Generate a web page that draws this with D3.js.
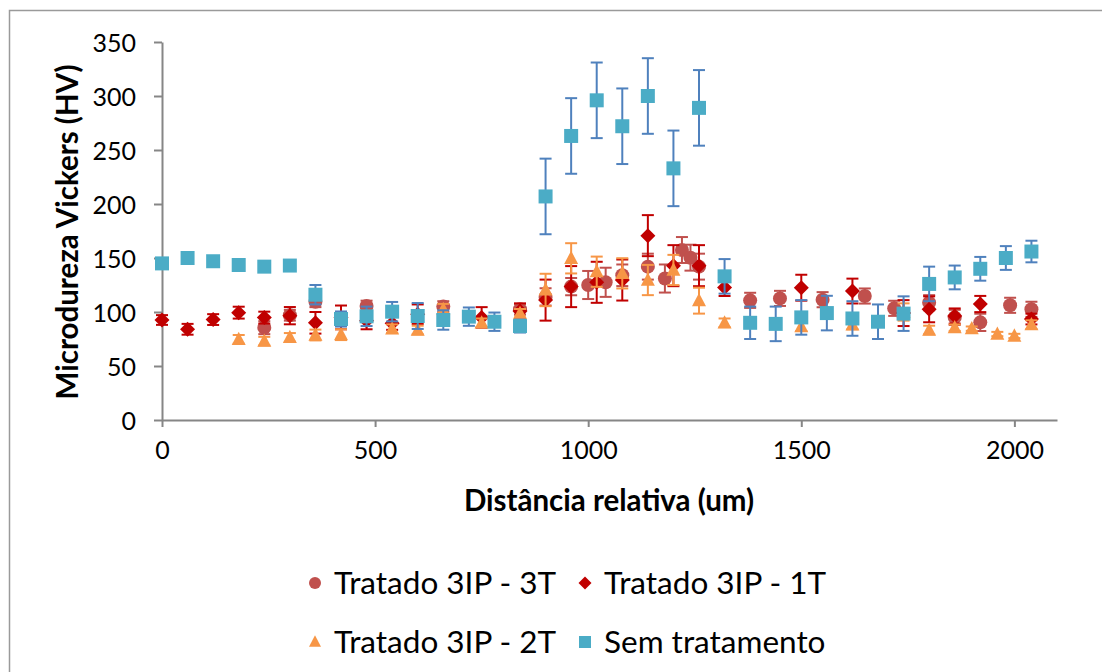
<!DOCTYPE html>
<html>
<head>
<meta charset="utf-8">
<script src="https://cdn.jsdelivr.net/npm/d3@7"></script>
<style>
  body { margin: 0; background: #fff; }
  svg { display: block; font-family: Lato, "Liberation Sans", sans-serif; }
</style>
</head>
<body>
<div id="chart"></div>
<script>
// Data
const seriesNames = ['Tratado 3IP - 3T', 'Tratado 3IP - 1T', 'Tratado 3IP - 2T', 'Sem tratamento'];

// Tratado 3IP - 3T (circles)
const t3x = [240, 300, 360, 480, 660, 840, 900, 960, 1000, 1041, 1080, 1140, 1180, 1220, 1240, 1260,
  1380, 1450, 1550, 1649, 1718, 1800, 1860, 1920, 1990, 2040];
const t3y = [85.5, 97, 109.5, 105.5, 105, 102.5, 114, 123.5, 125, 127.5, 134, 142, 131, 157.4, 150.3, 142,
  110.8, 112.6, 111.4, 114.8, 103.4, 108.6, 95, 90.4, 106.2, 102.5];
const t3e = [6, 5, 5, 5, 5, 5, 8, 8, 13, 13.5, 10, 12, 13, 12, 12, 12,
  7, 7, 7, 7, 7, 7, 7, 8, 7, 7];

// Tratado 3IP - 1T (diamonds)
const t1x = [0, 60, 120, 180, 240, 300, 360, 420, 480, 540, 600, 750, 840, 900, 960, 1020, 1080, 1140,
  1200, 1260, 1320, 1500, 1620, 1740, 1800, 1860, 1920, 2040];
const t1y = [92.6, 84, 93, 99.4, 94.8, 96.6, 90, 95, 92, 89.5, 98, 95, 101, 111, 123.5, 127.5, 129.6, 170.7,
  142.9, 142.9, 122.8, 122.5, 119.4, 99, 102.5, 96.3, 107.4, 93.5];
const t1e = [4.5, 5, 5, 5.5, 5.5, 8, 10, 11, 8, 6, 9, 9.5, 7, 19, 19, 19, 19, 19,
  19, 19, 8, 12, 11.5, 12, 12, 7, 7.5, 5];

// Tratado 3IP - 2T (triangles)
const t2x = [180, 240, 300, 360, 420, 540, 600, 660, 750, 840, 900, 960, 1020, 1080, 1140, 1200, 1260,
  1320, 1500, 1620, 1740, 1800, 1860, 1900, 1960, 2000, 2040];
const t2y = [74.7, 73, 76.5, 78.7, 79, 84.5, 83.3, 102.5, 90, 98.8, 120.4, 149.7, 137.3, 135.8, 129.6, 138.9, 110.5,
  90, 86.4, 88, 100, 83.3, 85.5, 84.6, 79.6, 77.8, 88.3];
const t2e = [4, 4, 4, 5, 5, 4, 4, 5, 4, 4, 15, 14, 14, 14, 14, 14, 12,
  4, 4, 4, 8, 4, 3, 2, 2, 2, 4];

// Sem tratamento (squares)
const stx = [0, 60, 120, 180, 240, 300, 360, 420, 480, 540, 600, 660, 720, 780, 840, 900, 960, 1020, 1080,
  1140, 1200, 1260, 1320, 1380, 1440, 1500, 1560, 1620, 1680, 1740, 1800, 1860, 1920, 1980, 2040];
const sty = [145, 150, 147, 143.5, 142, 143, 116, 93.5, 96, 100.3, 96.3, 92.6, 95.7, 91, 87, 207, 263, 296, 272,
  300, 233, 289, 133, 90, 89, 95, 99, 94, 91, 98.5, 126, 132, 140, 150, 156];
const ste = [0, 0, 0, 0, 0, 0, 9, 7, 9, 9, 12, 9, 8.5, 8.5, 6, 35, 35, 35, 35,
  35, 35, 35, 16, 15, 16, 16, 16, 16, 16, 16, 16, 11, 11, 11, 10];

const xTicks = [0, 500, 1000, 1500, 2000];
const yTicks = [0, 50, 100, 150, 200, 250, 300, 350];

// Chart dimensions
const width = 1102;
const height = 672;
const plot = { left: 162, right: 1057, top: 42, bottom: 420 };

const series = [
  { name: seriesNames[0], xs: t3x, ys: t3y, es: t3e, shape: 'circle', fill: '#C0504D', bar: '#C0504D' },
  { name: seriesNames[1], xs: t1x, ys: t1y, es: t1e, shape: 'diamond', fill: '#C00000', bar: '#C00000' },
  { name: seriesNames[2], xs: t2x, ys: t2y, es: t2e, shape: 'triangle', fill: '#F79646', bar: '#F79646' },
  { name: seriesNames[3], xs: stx, ys: sty, es: ste, shape: 'square', fill: '#4BACC6', bar: '#4F81BD' }
];

const xScale = d3.scaleLinear().domain([0, 2100]).range([plot.left, plot.right]);
const yScale = d3.scaleLinear().domain([0, 350]).range([plot.bottom, plot.top]);

function symbolPath(shape, s) {
  // s = overall marker size in px
  if (shape === 'circle') return d3.symbol(d3.symbolCircle, Math.PI * (s / 2) ** 2)();
  if (shape === 'square') return d3.symbol(d3.symbolSquare, s * s)();
  if (shape === 'triangle') {
    const h = s * 0.95, w = s;
    return `M0,${-h / 2 - 1}L${w / 2},${h / 2 - 1}L${-w / 2},${h / 2 - 1}Z`;
  }
  // diamond
  return `M0,${-s / 2}L${s / 2},0L0,${s / 2}L${-s / 2},0Z`;
}

const svg = d3.select('#chart')
  .append('svg')
  .attr('width', width)
  .attr('height', height);

svg.append('rect')
  .attr('width', width)
  .attr('height', height)
  .attr('fill', '#fff');

// chart area border (cropped on the right and bottom)
svg.append('rect')
  .attr('x', 9.5)
  .attr('y', 10.5)
  .attr('width', 1200)
  .attr('height', 800)
  .attr('fill', 'none')
  .attr('stroke', '#9a9a9a')
  .attr('stroke-width', 1.5);

// Axes
const yAxis = d3.axisLeft(yScale)
  .tickValues(yTicks)
  .tickSize(8)
  .tickSizeOuter(0)
  .tickPadding(18);

const xAxis = d3.axisBottom(xScale)
  .tickValues(xTicks)
  .tickFormat(d3.format('d'))
  .tickSize(7)
  .tickSizeOuter(0)
  .tickPadding(14);

const gy = svg.append('g')
  .attr('transform', `translate(${plot.left},0)`)
  .call(yAxis);

const gx = svg.append('g')
  .attr('transform', `translate(0,${plot.bottom})`)
  .call(xAxis);

[gx, gy].forEach(g => {
  g.select('.domain').attr('stroke', '#868686').attr('stroke-width', 2);
  g.selectAll('.tick line').attr('stroke', '#868686').attr('stroke-width', 2);
  g.selectAll('.tick text')
    .attr('fill', '#000')
    .style('font-size', '25px')
    .style('font-family', 'Lato, sans-serif');
});
gy.selectAll('.tick text').attr('dy', '0.36em');

// Axis titles
svg.append('text')
  .attr('x', 609)
  .attr('y', 511)
  .attr('text-anchor', 'middle')
  .style('font-size', '29.5px')
  .style('font-weight', 'bold')
  .text('Distância relativa (um)');

svg.append('text')
  .attr('transform', 'translate(78,232) rotate(-90)')
  .attr('text-anchor', 'middle')
  .style('font-size', '29.5px')
  .style('font-weight', 'bold')
  .text('Microdureza Vickers (HV)');

// Series: error bars then markers
const capW = 6;
series.forEach(s => {
  const pts = s.xs.map((x, i) => ({ x, y: s.ys[i], e: s.es[i] }));
  const g = svg.append('g');

  const bars = g.selectAll('g.err')
    .data(pts.filter(d => d.e > 0))
    .join('g')
    .attr('class', 'err')
    .attr('stroke', s.bar)
    .attr('stroke-width', 2);

  bars.append('line')
    .attr('x1', d => xScale(d.x))
    .attr('x2', d => xScale(d.x))
    .attr('y1', d => yScale(d.y + d.e))
    .attr('y2', d => yScale(d.y - d.e));
  bars.append('line')
    .attr('x1', d => xScale(d.x) - capW)
    .attr('x2', d => xScale(d.x) + capW)
    .attr('y1', d => yScale(d.y + d.e))
    .attr('y2', d => yScale(d.y + d.e));
  bars.append('line')
    .attr('x1', d => xScale(d.x) - capW)
    .attr('x2', d => xScale(d.x) + capW)
    .attr('y1', d => yScale(d.y - d.e))
    .attr('y2', d => yScale(d.y - d.e));

  g.selectAll('path.mark')
    .data(pts)
    .join('path')
    .attr('class', 'mark')
    .attr('d', symbolPath(s.shape, s.shape === 'diamond' ? 15 : 14))
    .attr('transform', d => `translate(${xScale(d.x)},${yScale(d.y)})`)
    .attr('fill', s.fill);
});

// Legend
const legendPos = [
  { x: 315, y: 583 },
  { x: 585, y: 583 },
  { x: 315, y: 642 },
  { x: 585, y: 642 }
];
series.forEach((s, i) => {
  const p = legendPos[i];
  svg.append('path')
    .attr('d', symbolPath(s.shape, s.shape === 'diamond' ? 13 : 12))
    .attr('transform', `translate(${p.x},${p.y})`)
    .attr('fill', s.fill);
  svg.append('text')
    .attr('x', p.x + 19)
    .attr('y', p.y + 10.5)
    .style('font-size', '31.5px')
    .text(s.name);
});
</script>
</body>
</html>
